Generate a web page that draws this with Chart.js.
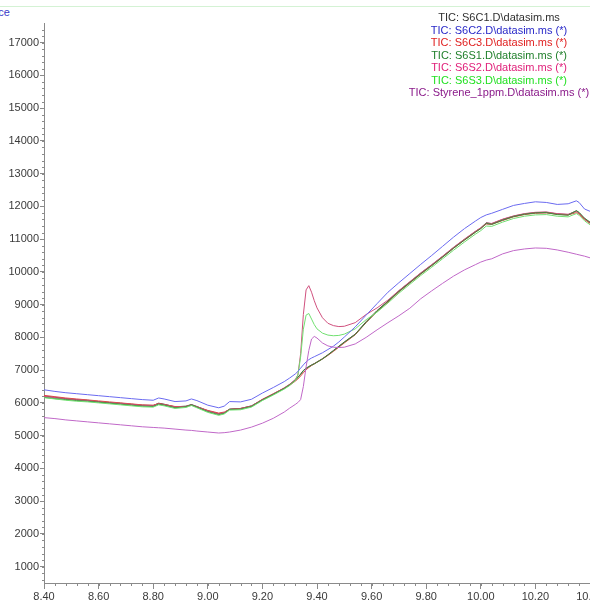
<!DOCTYPE html>
<html>
<head>
<meta charset="utf-8">
<script src="https://cdn.jsdelivr.net/npm/chart.js@4.4.1/dist/chart.umd.min.js"></script>
<style>
  html, body { margin:0; padding:0; background:#fff; width:590px; height:610px; overflow:hidden; position:relative; }
  #topline { position:absolute; left:0; top:6px; width:590px; height:1px; background:#d4f2d4; }
  #ylab { position:absolute; right:580px; top:6px; font:11px "Liberation Sans", Arial, sans-serif; color:#3a3ac8; white-space:nowrap; }
  #legend { position:absolute; left:399px; top:11px; width:200px; text-align:center; font:11px "Liberation Sans", Arial, sans-serif; line-height:12.5px; white-space:nowrap; }
  canvas { position:absolute; left:0; top:0; }
</style>
</head>
<body>
<div id="topline"></div>
<div id="ylab">Abundance</div>
<canvas id="c" width="640" height="610"></canvas>
<div id="legend"></div>
<script>
// ---- data ----
const times = [8.40, 8.44, 8.48, 8.52, 8.56, 8.60, 8.64, 8.68, 8.72, 8.76, 8.80,
  8.82, 8.84, 8.88, 8.92, 8.94, 8.96,
  9.00, 9.04, 9.06, 9.08, 9.12, 9.16, 9.20, 9.24, 9.28, 9.30,
  9.32, 9.33, 9.34, 9.35, 9.36, 9.37, 9.38, 9.39, 9.40,
  9.42, 9.44, 9.46, 9.48, 9.50,
  9.54, 9.58, 9.62, 9.66, 9.70, 9.74, 9.78, 9.82, 9.86, 9.90, 9.94, 9.98,
  10.00, 10.02, 10.04, 10.08, 10.12, 10.16, 10.20, 10.24, 10.28, 10.32, 10.35, 10.36, 10.38, 10.40];

const s6c1 = [6210, 6170, 6130, 6100, 6080, 6040, 6010, 5990, 5960, 5930, 5920,
  5990, 5960, 5880, 5900, 5950, 5890,
  5760, 5670, 5700, 5810, 5830, 5910, 6100, 6270, 6450, 6560,
  6700, 6780, 6880, 6990, 7060, 7110, 7160, 7200, 7250,
  7350, 7470, 7600, 7730, 7860,
  8100, 8480, 8820, 9110, 9420, 9690, 9960, 10210, 10470, 10740, 10990, 11230,
  11340, 11500, 11470, 11600, 11700, 11770, 11810, 11820, 11770, 11750, 11860, 11800, 11620, 11500];

const s6c2 = [6400, 6350, 6310, 6280, 6250, 6220, 6190, 6160, 6130, 6100, 6080,
  6150, 6120, 6040, 6060, 6120, 6070,
  5930, 5850, 5900, 6040, 6030, 6110, 6300, 6470, 6650, 6760,
  6880, 6960, 7060, 7160, 7250, 7320, 7370, 7410, 7450,
  7530, 7630, 7730, 7860, 8010,
  8320, 8680, 9030, 9380, 9670, 9950, 10230, 10500, 10780, 11060, 11320, 11550,
  11660, 11740, 11790, 11910, 12030, 12090, 12140, 12120, 12060, 12080, 12170, 12120, 11920, 11850];

const s6c3 = [6230, 6190, 6150, 6120, 6090, 6060, 6030, 6000, 5970, 5940, 5930,
  5980, 5950, 5890, 5890, 5930, 5880,
  5770, 5690, 5720, 5800, 5830, 5900, 6110, 6280, 6450, 6540,
  6660, 6730, 6820, 6920, 7010, 7080, 7140, 7190, 7240,
  7340, 7450, 7570, 7700, 7830,
  8080, 8450, 8790, 9080, 9390, 9660, 9930, 10190, 10450, 10720, 10970, 11210,
  11330, 11460, 11450, 11570, 11680, 11750, 11790, 11800, 11760, 11740, 11810, 11770, 11600, 11480];

const s6s1 = [6170, 6130, 6100, 6070, 6050, 6020, 5990, 5960, 5930, 5900, 5890,
  5960, 5930, 5850, 5880, 5940, 5870,
  5730, 5640, 5680, 5800, 5810, 5890, 6090, 6260, 6440, 6550,
  6690, 6770, 6870, 6980, 7050, 7100, 7150, 7190, 7240,
  7340, 7460, 7590, 7720, 7850,
  8090, 8460, 8800, 9100, 9400, 9670, 9940, 10190, 10450, 10720, 10970, 11210,
  11320, 11480, 11450, 11580, 11690, 11760, 11800, 11810, 11750, 11730, 11870, 11820, 11640, 11520];

const s6s2 = [6200, 6160, 6120, 6090, 6070, 6030, 6000, 5980, 5950, 5920, 5910,
  5970, 5940, 5870, 5890, 5940, 5880,
  5750, 5660, 5700, 5800, 5820, 5900, 6100, 6270, 6460, 6570,
  6710, 6850, 7500, 8700, 9450, 9580, 9380, 9120, 8900,
  8600, 8430, 8360, 8330, 8340,
  8450, 8700, 8900, 9140, 9430, 9700, 9970, 10220, 10480, 10750, 11000, 11240,
  11350, 11490, 11480, 11610, 11710, 11780, 11820, 11830, 11780, 11760, 11850, 11800, 11630, 11510];

const s6s3 = [6160, 6120, 6080, 6050, 6030, 6000, 5970, 5940, 5910, 5880, 5870,
  5940, 5910, 5830, 5860, 5920, 5850,
  5710, 5620, 5660, 5780, 5790, 5870, 6070, 6240, 6420, 6530,
  6680, 6850, 7400, 8250, 8680, 8730, 8560, 8390, 8260,
  8130, 8070, 8050, 8060, 8100,
  8260, 8540, 8770, 9050, 9350, 9620, 9890, 10140, 10400, 10660, 10910, 11150,
  11260, 11400, 11390, 11520, 11630, 11700, 11740, 11750, 11700, 11680, 11780, 11730, 11560, 11440];

const styrene = [5550, 5520, 5480, 5450, 5420, 5390, 5360, 5330, 5300, 5270, 5250,
  5240, 5230, 5200, 5170, 5160, 5140,
  5110, 5080, 5090, 5110, 5170, 5260, 5380, 5530, 5720, 5840,
  5950, 6010, 6100, 6500, 7100, 7600, 7950, 8030, 7980,
  7830, 7740, 7700, 7690, 7700,
  7800, 8000, 8230, 8450, 8660, 8890, 9180, 9420, 9650, 9870, 10060, 10220,
  10300, 10360, 10400, 10550, 10650, 10700, 10730, 10720, 10670, 10600, 10540, 10520, 10480, 10430];

const seriesNames = ['TIC: S6C1.D\\datasim.ms', 'TIC: S6C2.D\\datasim.ms (*)', 'TIC: S6C3.D\\datasim.ms (*)',
  'TIC: S6S1.D\\datasim.ms (*)', 'TIC: S6S2.D\\datasim.ms (*)', 'TIC: S6S3.D\\datasim.ms (*)',
  'TIC: Styrene_1ppm.D\\datasim.ms (*)'];
const xTickLabels = ['8.40', '8.60', '8.80', '9.00', '9.20', '9.40', '9.60', '9.80', '10.00', '10.20', '10.40'];
const yTickLabels = ['1000', '2000', '3000', '4000', '5000', '6000', '7000', '8000', '9000',
  '10000', '11000', '12000', '13000', '14000', '15000', '16000', '17000'];

// ---- styles ----
const legendColors = ['#303030', '#2828c8', '#e02020', '#1f7f2a', '#e0207a', '#22e022', '#8a1a8a'];
const lineColors = ['#4a3a3a', '#6a6af0', '#e04848', '#3c8a3c', '#d0507e', '#70e070', '#c068c8'];
const seriesValues = [s6c1, s6c2, s6c3, s6s1, s6s2, s6s3, styrene];
const drawOrder = [6, 1, 5, 3, 4, 2, 0];

const legend = document.getElementById('legend');
seriesNames.forEach((n, i) => {
  const d = document.createElement('div');
  d.textContent = n;
  d.style.color = legendColors[i];
  legend.appendChild(d);
});

const datasets = seriesValues.map((vals, i) => ({
  label: seriesNames[i],
  data: times.map((t, k) => ({ x: t, y: vals[k] })),
  borderColor: lineColors[i],
  borderWidth: 1,
  pointRadius: 0,
  tension: 0,
  fill: false,
  order: drawOrder.indexOf(i)
}));

const minorTicks = {
  id: 'minorTicks',
  afterDraw(chart) {
    const ctx = chart.ctx, xs = chart.scales.x, ys = chart.scales.y;
    const a = chart.chartArea;
    ctx.save();
    ctx.strokeStyle = '#8a8a8a';
    ctx.lineWidth = 1;
    ctx.beginPath();
    for (let v = 8.44; v < 10.42; v += 0.04) {
      const p = Math.round(xs.getPixelForValue(v)) + 0.5;
      ctx.moveTo(p, a.bottom); ctx.lineTo(p, a.bottom + 3);
    }
    for (let v = 600; v < 17600; v += 200) {
      const p = Math.round(ys.getPixelForValue(v)) + 0.5;
      ctx.moveTo(a.left - 2, p); ctx.lineTo(a.left, p);
    }
    ctx.stroke();
    ctx.restore();
  }
};

new Chart(document.getElementById('c'), {
  type: 'line',
  data: { datasets },
  plugins: [minorTicks],
  options: {
    responsive: false,
    animation: false,
    layout: { padding: { top: 23, right: 50, left: 0, bottom: 0 } },
    plugins: { legend: { display: false }, tooltip: { enabled: false } },
    scales: {
      x: {
        type: 'linear', min: 8.40, max: 10.40,
        afterFit: s => { s.height = 27; },
        afterBuildTicks: s => { s.ticks = xTickLabels.map(l => ({ value: parseFloat(l) })); },
        grid: { display: true, drawOnChartArea: false, drawTicks: true, tickLength: 6, color: '#8a8a8a' },
        border: { display: true, color: '#8a8a8a' },
        ticks: {
          padding: 1, maxRotation: 0, autoSkip: false,
          color: '#3a3a3a', font: { family: '"Liberation Sans", Arial, sans-serif', size: 11 },
          callback: (v) => xTickLabels.find(l => Math.abs(parseFloat(l) - v) < 1e-6)
        }
      },
      y: {
        type: 'linear', min: 500, max: 17600,
        afterFit: s => { s.width = 44; },
        afterBuildTicks: s => { s.ticks = yTickLabels.map(l => ({ value: parseFloat(l) })); },
        grid: { display: true, drawOnChartArea: false, drawTicks: true, tickLength: 4, color: '#8a8a8a' },
        border: { display: true, color: '#8a8a8a' },
        ticks: {
          padding: 1, autoSkip: false,
          color: '#3a3a3a', font: { family: '"Liberation Sans", Arial, sans-serif', size: 11 },
          callback: (v) => yTickLabels.find(l => parseFloat(l) === v)
        }
      }
    }
  }
});
</script>
</body>
</html>
